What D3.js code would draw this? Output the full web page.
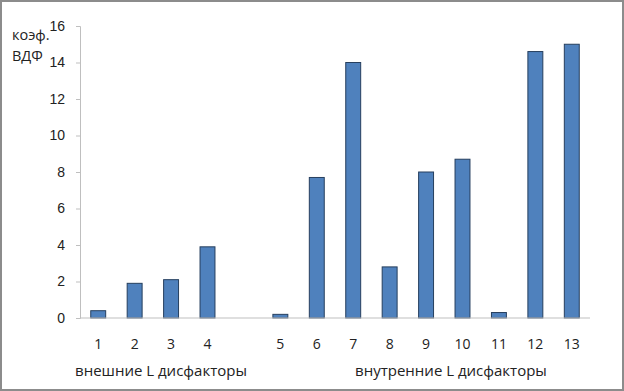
<!DOCTYPE html>
<meta charset="utf-8">
<head>
  <title>ВДФ</title>
  <script src="https://d3js.org/d3.v7.min.js"></script>
  <style>
    body { margin: 0; }
    svg { display: block; font-family: "Open Sans", "Noto Sans", sans-serif; }
    .tick text { font-size: 14px; fill: #222; }
  </style>
</head>
<body>
<svg></svg>
<script>
var width = 624, height = 391;
var margin = {top: 26, right: 34, bottom: 73, left: 80};

// categories (a blank slot separates the two groups)
var categories = ["1", "2", "3", "4", "", "5", "6", "7", "8", "9", "10", "11", "12", "13"];
var values = [0.4, 1.9, 2.1, 3.9, null, 0.2, 7.7, 14.0, 2.8, 8.0, 8.7, 0.3, 14.6, 15.0];
var yTicks = [0, 2, 4, 6, 8, 10, 12, 14, 16];
var groupLabels = ["внешние L дисфакторы", "внутренние L дисфакторы"];

var svg = d3.select("svg").attr("width", width).attr("height", height);

svg.append("rect")
    .attr("x", 1).attr("y", 1)
    .attr("width", width - 2).attr("height", height - 2)
    .attr("fill", "#fff").attr("stroke", "#8c8c8c").attr("stroke-width", 2);

var innerW = width - margin.left - margin.right;
var innerH = height - margin.top - margin.bottom;

var x = d3.scaleBand().domain(d3.range(categories.length)).range([0, innerW]).paddingInner(0.59).paddingOuter(0.295);
var y = d3.scaleLinear().domain([0, 16]).range([innerH, 0]);

var g = svg.append("g").attr("transform", "translate(" + margin.left + "," + margin.top + ")");

var yAxis = g.append("g").call(d3.axisLeft(y).tickValues(yTicks).tickSize(4).tickPadding(11));
yAxis.select(".domain").attr("stroke", "#bfbfbf");
yAxis.selectAll(".tick line").attr("stroke", "#bfbfbf");

var data = values.map(function(v, i) { return {i: i, v: v}; }).filter(function(d) { return d.v != null; });

g.selectAll(".bar")
    .data(data)
    .enter().append("rect")
    .attr("class", "bar")
    .attr("x", function(d) { return x(d.i); })
    .attr("y", function(d) { return y(d.v); })
    .attr("width", x.bandwidth())
    .attr("height", function(d) { return innerH - y(d.v); })
    .attr("fill", "#4f81bd")
    .attr("stroke", "#263f5e")
    .attr("stroke-width", 1);

g.append("line")
    .attr("x1", 0).attr("x2", innerW)
    .attr("y1", innerH).attr("y2", innerH)
    .attr("stroke", "#bfbfbf");

g.selectAll(".xlab")
    .data(categories.map(function(c, i) { return {c: c, i: i}; }).filter(function(d) { return d.c; }))
    .enter().append("text")
    .attr("class", "xlab")
    .attr("x", function(d) { return x(d.i) + x.bandwidth() / 2; })
    .attr("y", innerH + 31)
    .attr("text-anchor", "middle")
    .style("font-size", "14px")
    .attr("fill", "#222")
    .text(function(d) { return d.c; });

// group captions sit under the groups, placed as in the original sheet
var captionX = [161, 451];
svg.selectAll(".glab")
    .data(groupLabels)
    .enter().append("text")
    .attr("class", "glab")
    .attr("x", function(d, i) { return captionX[i]; })
    .attr("y", 376)
    .attr("text-anchor", "middle")
    .style("font-size", "15px")
    .attr("fill", "#222")
    .text(function(d) { return d; });

svg.append("text").attr("x", 12).attr("y", 40).style("font-size", "14.5px").attr("fill", "#222").text("коэф.");
svg.append("text").attr("x", 12).attr("y", 61).style("font-size", "14.5px").attr("fill", "#222").text("ВДФ");
</script>
</body>
